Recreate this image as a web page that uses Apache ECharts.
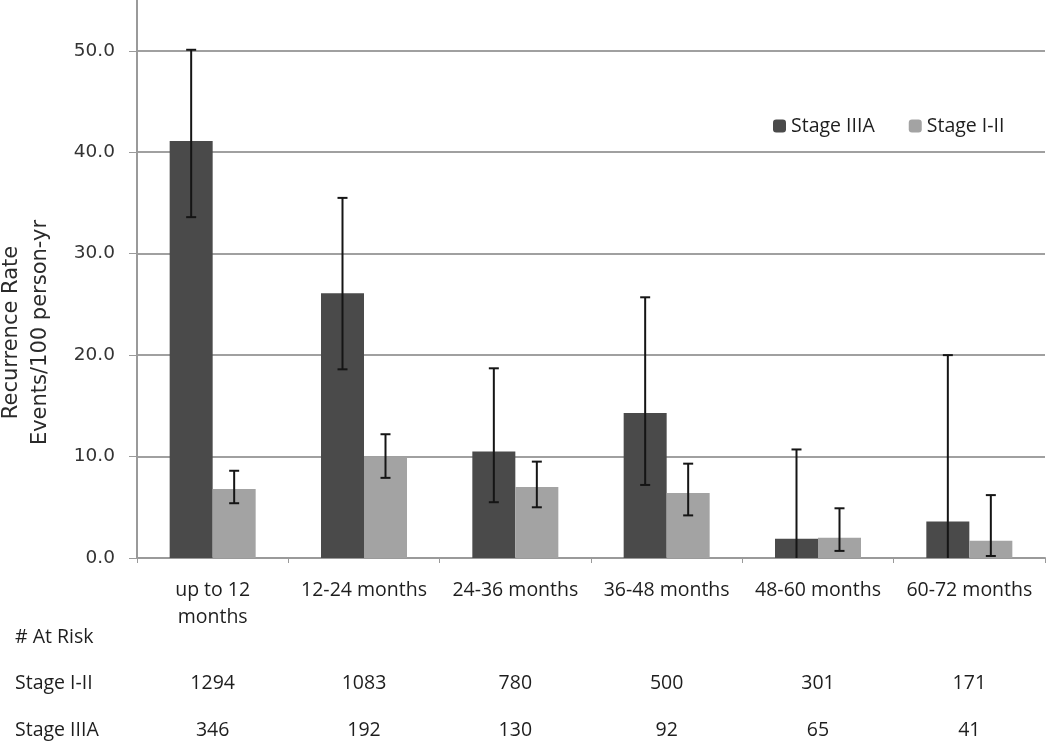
<!DOCTYPE html>
<html><head><meta charset="utf-8">
<script src="https://cdn.jsdelivr.net/npm/echarts@6/dist/echarts.min.js"></script>
<style>html,body{margin:0;padding:0;background:#fff}#c{width:1050px;height:743px}</style>
</head><body><div id="c"></div>
<script>
const categories = ['up to 12\nmonths', '12-24 months', '24-36 months', '36-48 months', '48-60 months', '60-72 months'];
const stageIIIA = [41.1, 26.1, 10.5, 14.3, 1.9, 3.6];
const stageIIIA_low = [33.6, 18.6, 5.5, 7.2, 0, 0];
const stageIIIA_high = [50.1, 35.5, 18.7, 25.7, 10.7, 20.0];
const stageI_II = [6.8, 9.9, 7.0, 6.4, 2.0, 1.7];
const stageI_II_low = [5.4, 7.9, 5.0, 4.2, 0.7, 0.2];
const stageI_II_high = [8.6, 12.2, 9.5, 9.3, 4.9, 6.2];
const atRiskI_II = [1294, 1083, 780, 500, 301, 171];
const atRiskIIIA = [346, 192, 130, 92, 65, 41];
const seriesNames = ['Stage IIIA', 'Stage I-II'];
const rowLabels = ['# At Risk', 'Stage I-II', 'Stage IIIA'];
const yTitle = 'Recurrence Rate\nEvents/100 person-yr';

const BAR_W = 43;
const TXT = "'Open Sans', sans-serif";
const TXT_SIZE = 19.5;
const chart = echarts.init(document.getElementById('c'));

function errRender(sign) {
  return function (params, api) {
    const i = api.value(0);
    const lo = api.coord([i, api.value(1)]);
    const hi = api.coord([i, api.value(2)]);
    const x = lo[0] + sign * BAR_W / 2;
    const cap = 5;
    const style = { stroke: '#151515', lineWidth: 2 };
    const children = [
      { type: 'line', shape: { x1: x, y1: lo[1], x2: x, y2: hi[1] }, style },
      { type: 'line', shape: { x1: x - cap, y1: hi[1], x2: x + cap, y2: hi[1] }, style }
    ];
    if (api.value(1) > 0) children.push({ type: 'line', shape: { x1: x - cap, y1: lo[1], x2: x + cap, y2: lo[1] }, style });
    return { type: 'group', children };
  };
}

const extraAxis = (data, offset) => ({
  type: 'category', data: data.map(String), gridIndex: 0, position: 'bottom', offset,
  axisLine: { show: false }, axisTick: { show: false }, splitLine: { show: false },
  axisLabel: { margin: 0, fontFamily: TXT, fontSize: TXT_SIZE, lineHeight: 27, color: '#1e1e1e', interval: 0 }
});

chart.setOption({
  animation: false,
  backgroundColor: '#fff',
  grid: { left: 137, right: 5, top: -5, bottom: 185, containLabel: false, outerBoundsMode: 'none' },
  legend: {
    data: seriesNames, left: 768, top: 110, itemWidth: 13, itemHeight: 13, itemGap: 34,
    textStyle: { fontFamily: TXT, fontSize: TXT_SIZE, color: '#1e1e1e', lineHeight: 22 }
  },
  xAxis: [
    {
      type: 'category', data: categories,
      axisLine: { lineStyle: { color: '#9a9a9a', width: 2 } },
      axisTick: { show: true, length: 5, lineStyle: { color: '#9a9a9a' } },
      axisLabel: { interval: 0, margin: 18.5, lineHeight: 27, fontFamily: TXT, fontSize: TXT_SIZE, color: '#1e1e1e' }
    },
    extraAxis(atRiskI_II, 111.5),
    extraAxis(atRiskIIIA, 158.5)
  ],
  yAxis: {
    type: 'value', min: 0, max: 55.5, interval: 10,
    name: yTitle, nameLocation: 'middle', nameRotate: 90, nameGap: 82,
    nameTextStyle: { fontFamily: 'DejaVu Sans', fontSize: 21, color: '#2a2a2a', lineHeight: 29, padding: [0, 112, 0, 0] },
    axisLine: { show: true, lineStyle: { color: '#9a9a9a', width: 2 } },
    axisTick: { show: true, length: 8, lineStyle: { color: '#9a9a9a' } },
    axisLabel: { margin: 22, fontFamily: 'DejaVu Sans', fontSize: 18.5, color: '#333', showMaxLabel: false,
      formatter: v => v.toFixed(1) },
    splitLine: { show: true, lineStyle: { color: '#a0a0a0', width: 2 } }
  },
  graphic: rowLabels.map((t, k) => ({
    type: 'text', x: 15, y: [637, 683, 730][k],
    style: { text: t, fontFamily: TXT, fontSize: TXT_SIZE, fill: '#1e1e1e', verticalAlign: 'middle' }
  })),
  series: [
    { name: seriesNames[0], type: 'bar', data: stageIIIA, barWidth: BAR_W, barGap: '0%', itemStyle: { color: '#4a4a4a' } },
    { name: seriesNames[1], type: 'bar', data: stageI_II, barWidth: BAR_W, barGap: '0%', itemStyle: { color: '#a3a3a3' } },
    { type: 'custom', z: 5, renderItem: errRender(-1), encode: { x: 0, y: [1, 2] },
      data: stageIIIA.map((v, i) => [i, stageIIIA_low[i], stageIIIA_high[i]]) },
    { type: 'custom', z: 5, renderItem: errRender(1), encode: { x: 0, y: [1, 2] },
      data: stageI_II.map((v, i) => [i, stageI_II_low[i], stageI_II_high[i]]) }
  ]
});
</script></body></html>
